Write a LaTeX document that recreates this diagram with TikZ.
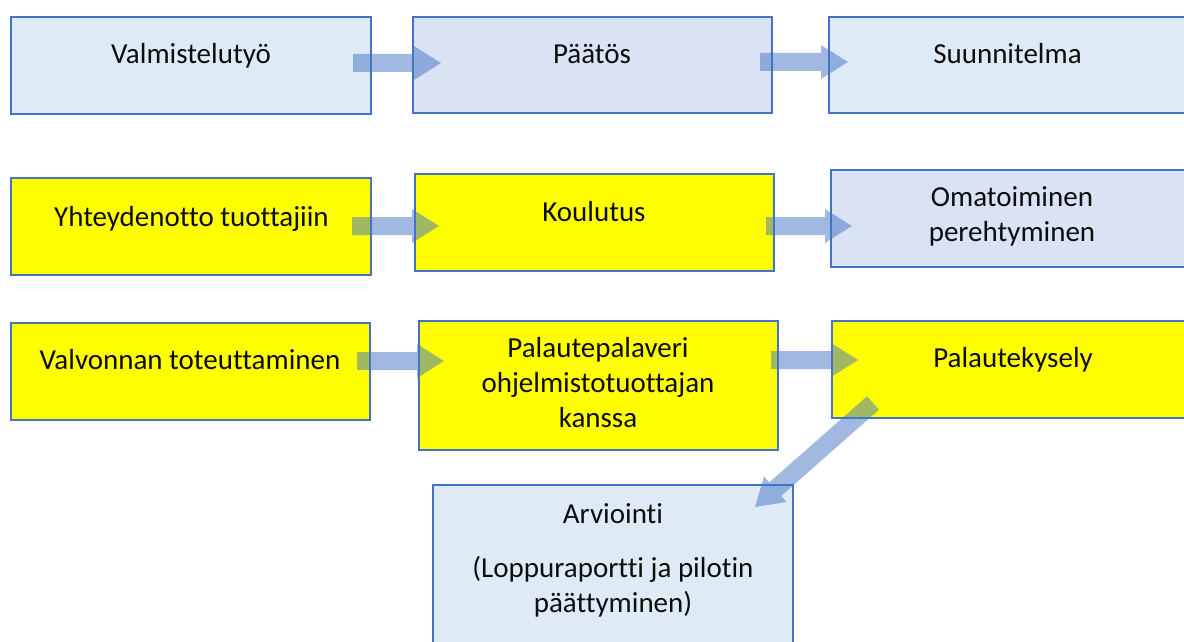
\documentclass[tikz,border=0pt]{standalone}
\usepackage{fontspec}
\setmainfont{Carlito}[Ligatures=NoCommon]
\usetikzlibrary{calc}
\definecolor{bord}{HTML}{4472C4}
\definecolor{lb}{HTML}{DEEBF7}
\definecolor{lav}{HTML}{DAE3F3}
\definecolor{yel}{HTML}{FFFF00}
\definecolor{txt}{HTML}{0D0D0D}
\newcommand\blockarrow[2]{%
  \coordinate (#1h) at ($(#2)!27pt!(#1)$);
  \fill[arrowfill] ($(#1)!9pt!90:(#2)$) -- ($(#1h)!9pt!-90:(#1)$) -- ($(#1h)!17pt!-90:(#1)$) -- (#2)
    -- ($(#1h)!17pt!90:(#1)$) -- ($(#1h)!9pt!90:(#1)$) -- ($(#1)!9pt!-90:(#2)$) -- cycle;}
\tikzset{
  box/.style={draw=bord, line width=1.5pt, inner sep=0pt},
  lbl/.style={font=\fontsize{29pt}{35pt}\selectfont, text=txt, align=center, inner sep=0pt},
  arrowfill/.style={fill=bord, fill opacity=0.5}
}
\begin{document}
\begin{tikzpicture}[x=1pt,y=-1pt]
\useasboundingbox (0,0) rectangle (1184,642);
\clip (0,0) rectangle (1184,642);
\fill[white] (0,0) rectangle (1184,642);
% boxes
\node[box, fill=lb,  minimum width=360pt, minimum height=97pt]  (b1)  at (191,65.5) {};
\node[box, fill=lav, minimum width=359pt, minimum height=96pt]  (b2)  at (592.5,65) {};
\node[box, fill=lb,  minimum width=361pt, minimum height=96pt]  (b3)  at (1009.5,65) {};
\node[box, fill=yel, minimum width=360pt, minimum height=97pt]  (b4)  at (191,226.5) {};
\node[box, fill=yel, minimum width=359pt, minimum height=97pt]  (b5)  at (594.5,222.5) {};
\node[box, fill=lav, minimum width=361pt, minimum height=97pt]  (b6)  at (1011.5,218.5) {};
\node[box, fill=yel, minimum width=359pt, minimum height=97pt]  (b7)  at (190.5,371.5) {};
\node[box, fill=yel, minimum width=359pt, minimum height=129pt] (b8)  at (598.5,385.5) {};
\node[box, fill=yel, minimum width=361pt, minimum height=97pt]  (b9)  at (1012.5,369.5) {};
\node[box, fill=lb,  minimum width=360pt, minimum height=162pt] (b10) at (613,566) {};
% texts
\node[lbl] (t1) at (191,57) {\strut Valmistelutyö};
\node[lbl] (t2) at (592,57) {\strut Päätös};
\node[lbl] (t3) at (1007.5,57) {\strut Suunnitelma};
\node[lbl] (t4) at (191.5,219) {\strut Yhteydenotto tuottajiin};
\node[lbl] (t5) at (594,214) {\strut Koulutus};
\node[lbl] (t6) at (1012,216.5) {\strut Omatoiminen\\\strut perehtyminen};
\node[lbl] (t7) at (190,362) {\strut Valvonnan toteuttaminen};
\node[lbl] (t8) at (598,385.5) {\strut Palautepalaveri\\\strut ohjelmistotuottajan\\\strut kanssa};
\node[lbl] (t9) at (1013,360) {\strut Palautekysely};
\node[lbl] (t10) at (613,560.5) {\strut Arviointi\\[19pt]\strut (Loppuraportti ja pilotin\\\strut päättyminen)};
% arrow end points
\coordinate (a1s) at (353,63);  \coordinate (a1e) at (441,63);
\coordinate (a2s) at (760,62);  \coordinate (a2e) at (848,62);
\coordinate (a3s) at (352,226); \coordinate (a3e) at (439,226);
\coordinate (a4s) at (766,226); \coordinate (a4e) at (852,226);
\coordinate (a5s) at (357,361); \coordinate (a5e) at (444,361);
\coordinate (a6s) at (771,360); \coordinate (a6e) at (858,360);
\coordinate (a7s) at (873,403); \coordinate (a7e) at (755,507);
\blockarrow{a1s}{a1e}
\blockarrow{a2s}{a2e}
\blockarrow{a3s}{a3e}
\blockarrow{a4s}{a4e}
\blockarrow{a5s}{a5e}
\blockarrow{a6s}{a6e}
\blockarrow{a7s}{a7e}
\end{tikzpicture}
\end{document}
